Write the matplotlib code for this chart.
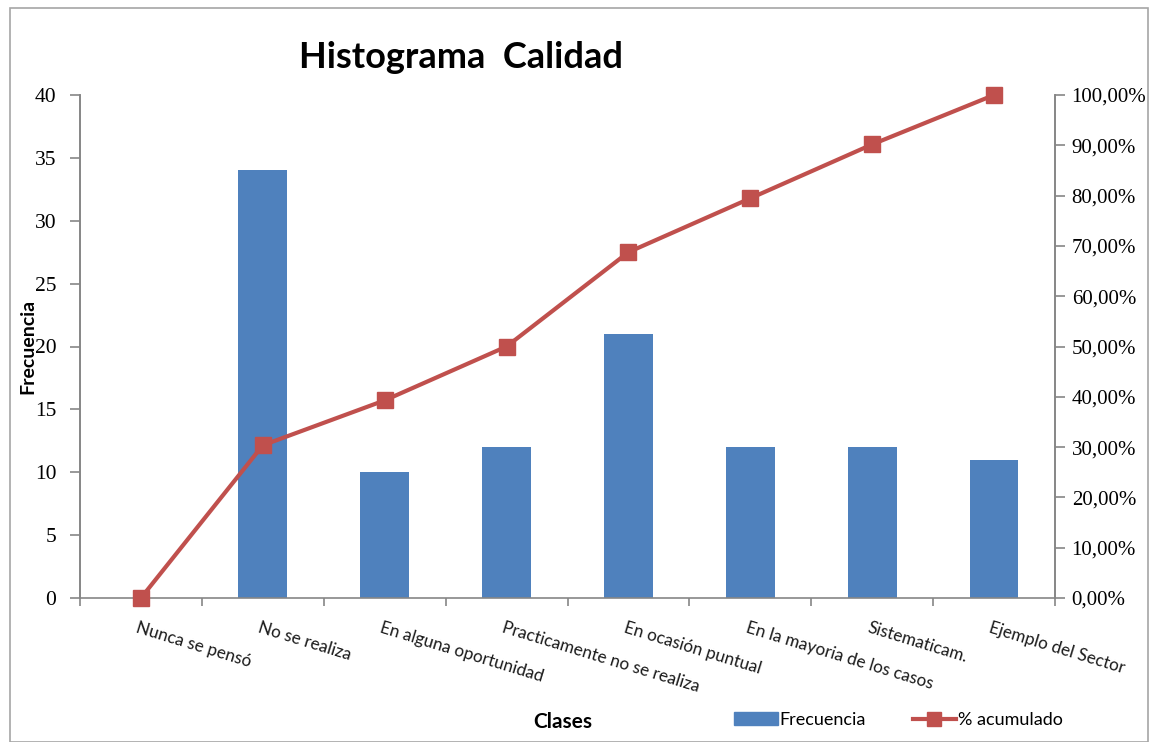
import matplotlib
matplotlib.use("Agg")
import matplotlib.pyplot as plt
from matplotlib.patches import Rectangle
from matplotlib.lines import Line2D
from matplotlib.ticker import FixedLocator, FuncFormatter

categories = ["Nunca se pensó", "No se realiza", "En alguna oportunidad",
              "Practicamente no se realiza", "En ocasión puntual",
              "En la mayoria de los casos", "Sistematicam.", "Ejemplo del Sector"]
frecuencia = [0, 34, 10, 12, 21, 12, 12, 11]
acumulado = [0.0, 30.36, 39.29, 50.0, 68.75, 79.46, 90.18, 100.0]
left_ticks = [0, 5, 10, 15, 20, 25, 30, 35, 40]
right_ticks = [0, 10, 20, 30, 40, 50, 60, 70, 80, 90, 100]

BLUE = "#4F81BD"
RED = "#C0504D"
GRAY = "#868686"

W, H = 1151, 742
fig = plt.figure(figsize=(W / 100, H / 100), dpi=100)
fig.patch.set_facecolor("white")
fig.add_artist(Rectangle((10 / W, 0), (W - 13) / W, (H - 8) / H, transform=fig.transFigure,
                         fill=False, edgecolor="#A6A6A6", linewidth=1.2))

ax = fig.add_axes([80 / W, 1 - 598 / H, 975 / W, (598 - 95) / H])
x = list(range(len(categories)))
ax.bar(x, frecuencia, width=0.4, color=BLUE, zorder=2)
ax.set_xlim(-0.5, len(categories) - 0.5)
ax.set_ylim(0, 40)
ax.yaxis.set_major_locator(FixedLocator(left_ticks))

ax2 = ax.twinx()
ax2.plot(x, acumulado, color=RED, linewidth=3, marker="s", markersize=11,
         markerfacecolor=RED, markeredgecolor=RED, clip_on=False, zorder=3)
ax2.set_ylim(0, 100)
ax2.yaxis.set_major_locator(FixedLocator(right_ticks))
ax2.yaxis.set_major_formatter(FuncFormatter(lambda v, p: f"{v:.2f}%".replace(".", ",")))

for a in (ax, ax2):
    a.spines["top"].set_visible(False)
    for s in ("left", "right", "bottom"):
        a.spines[s].set_color(GRAY)
        a.spines[s].set_linewidth(1.2)
ax2.spines["bottom"].set_visible(False)

ax.tick_params(axis="y", direction="out", length=7, color=GRAY, width=1.2, pad=10,
               labelsize=15.5, labelfontfamily="Liberation Serif")
ax2.tick_params(axis="y", direction="out", length=7, color=GRAY, width=1.2, pad=5,
                labelsize=15, labelfontfamily="Liberation Serif")

ax.set_xticks(x)
ax.set_xticklabels([])
ax.tick_params(axis="x", which="major", length=0)
ax.set_xticks([i + 0.5 for i in range(-1, len(categories))], minor=True)
ax.tick_params(axis="x", which="minor", direction="out", length=6, color=GRAY, width=1.2)

for i, c in enumerate(categories):
    ax.annotate(c, xy=(i, 0), xycoords=("data", "axes fraction"),
                xytext=(-2, -22), textcoords="offset pixels",
                rotation=-17, rotation_mode="anchor", ha="left", va="top",
                fontsize=12.3, family="Lato", color="#1a1a1a")

ax.set_ylabel("Frecuencia", fontsize=14, fontweight="bold", family="Lato")
ax.yaxis.set_label_coords(-44 / 975, 0.5)

fig.text(461 / W, 1 - 57 / H, "Histograma  Calidad", fontsize=26, fontweight="bold",
         family="Lato", ha="center", va="center")
fig.text(563 / W, 1 - 722 / H, "Clases", fontsize=15, fontweight="bold",
         family="Lato", ha="center", va="center")

handles = [Rectangle((0, 0), 1, 1, color=BLUE),
           Line2D([0], [0], color=RED, linewidth=3, marker="s", markersize=10)]
fig.legend(handles, ["Frecuencia", "% acumulado"], loc="center left",
           bbox_to_anchor=(718 / W, 1 - 720 / H), ncol=2, frameon=False,
           prop={"family": "Lato", "size": 13}, handlelength=2.4, handletextpad=0.1,
           columnspacing=2.6)

fig.savefig("out.png", dpi=100)
